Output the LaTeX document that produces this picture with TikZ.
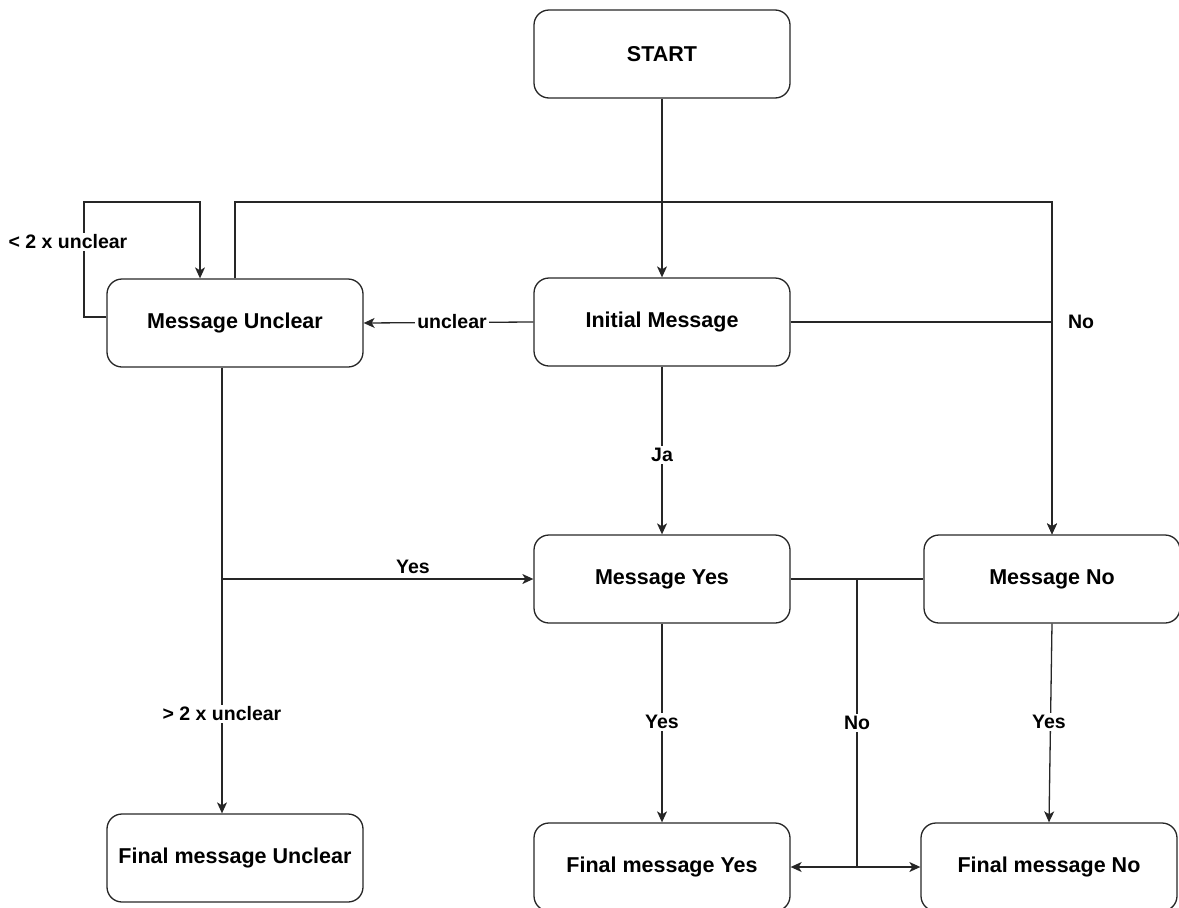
\documentclass[tikz,border=0pt]{standalone}
\usepackage{fontspec}
\setmainfont{Liberation Sans}
\usetikzlibrary{arrows.meta}
\begin{document}
\begin{tikzpicture}[x=1pt,y=-1pt,
  box/.style={draw=black!85, line width=1.3pt, rounded corners=15pt,
    minimum width=256pt, minimum height=88pt, align=center,
    font=\fontsize{21.5}{26}\selectfont\bfseries},
  conn/.style={draw=black!85, line width=1.3pt},
  edge/.style={conn, -{Stealth[length=11pt,width=10pt,inset=3pt]}},
  twoway/.style={conn, {Stealth[length=11pt,width=10pt,inset=3pt]}-{Stealth[length=11pt,width=10pt,inset=3pt]}},
  lbl/.style={fill=white, inner sep=2pt, font=\fontsize{19.5}{23}\selectfont\bfseries}
]
\useasboundingbox (0,0) rectangle (1179,908);

% boxes
\node[box] (start) at (662,54)  {START};
\node[box] (init)  at (662,322) {Initial Message};
\node[box] (unc)   at (235,323) {Message Unclear};
\node[box] (myes)  at (662,579) {Message Yes};
\node[box] (mno)   at (1052,579) {Message No};
\node[box] (fu)    at (235,858) {Final message Unclear};
\node[box] (fyes)  at (662,867) {Final message Yes};
\node[box] (fno)   at (1049,867) {Final message No};

\coordinate (topY) at (0,202);
\coordinate (ubot) at ([xshift=-13pt]unc.south);
\coordinate (jn)   at (857,579);

% START -> Initial Message
\draw[edge] (start.south) -- (init.north);

% Initial Message -> Message Unclear
\draw[edge] (init.west) -- (unc.east);
\node[lbl] (lunc) at (452,322) {unclear};

% Initial Message -> Message Yes
\draw[edge] (init.south) -- (myes.north);
\node[lbl] (lja) at (662,455) {Ja};

% Initial Message -> Message No
\draw[edge] (init.east) -| (mno.north);
\node[lbl] (lno1) at (1081,322) {No};

% Message Unclear -> Message No (over the top)
\draw[edge] (unc.north) -- (unc.north |- topY) -| (mno.north);

% Message Unclear self loop
\draw[edge] ([yshift=6pt]unc.west) -| (84,202) -| ([xshift=-35pt]unc.north);
\node[lbl] (lloop) at (68,242) {< 2 x unclear};

% Message Unclear -> Final message Unclear / Message Yes
\draw[edge] (ubot) -- (ubot |- fu.north);
\node[lbl] (lmore) at (222,714) {> 2 x unclear};
\draw[edge] (ubot |- myes.west) -- (myes.west);
\node[lbl] (lyes1) at (413,567) {Yes};

% Message Yes -> Final message Yes
\draw[edge] (myes.south) -- (fyes.north);
\node[lbl] (lyes2) at (662,722) {Yes};

% Message No -> Final message No
\draw[edge] (mno.south) -- (fno.north);
\node[lbl] (lyes3) at (1049,722) {Yes};

% No branch between the two middle boxes
\draw[conn] (myes.east) -- (mno.west);
\draw[conn] (jn) -- (jn |- fyes.east);
\draw[twoway] (fyes.east) -- (fno.west);
\node[lbl] (lno2) at (857,723) {No};
\end{tikzpicture}
\end{document}
